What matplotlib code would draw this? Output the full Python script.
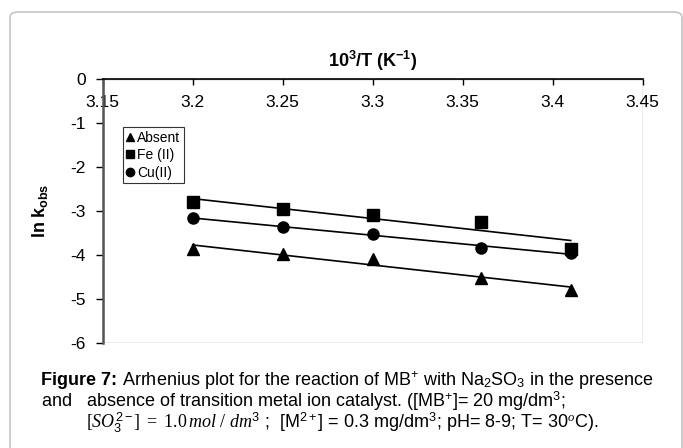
import numpy as np
import matplotlib
matplotlib.use('Agg')
import matplotlib.pyplot as plt
from matplotlib.patches import Rectangle, FancyBboxPatch

plt.rcParams['font.family'] = ['Liberation Sans', 'DejaVu Sans']
plt.rcParams['axes.unicode_minus'] = False
plt.rcParams['mathtext.fontset'] = 'custom'
plt.rcParams['mathtext.rm'] = 'Liberation Sans'
plt.rcParams['mathtext.bf'] = 'Liberation Sans:bold'
plt.rcParams['mathtext.it'] = 'Liberation Serif:italic'
plt.rcParams['mathtext.sf'] = 'Liberation Serif'

# values
inv_T = [3.2, 3.25, 3.3, 3.36, 3.41]
absent = [-3.86, -3.97, -4.09, -4.51, -4.79]
fe_ii = [-2.80, -2.955, -3.08, -3.24, -3.86]
cu_ii = [-3.145, -3.37, -3.52, -3.84, -3.95]
x_ticks = [3.15, 3.2, 3.25, 3.3, 3.35, 3.4, 3.45]
x_labels = ['3.15', '3.2', '3.25', '3.3', '3.35', '3.4', '3.45']
y_ticks = [0, -1, -2, -3, -4, -5, -6]

series = [
    ('Absent', absent, '^'),
    ('Fe (II)', fe_ii, 's'),
    ('Cu(II)', cu_ii, 'o'),
]

fig = plt.figure(figsize=(6.83, 4.48), dpi=100)

# rounded frame around the whole figure
frame = FancyBboxPatch((10 / 683, -0.05), (672 / 683), 1.05 - 12 / 448,
                       boxstyle='round,pad=0,rounding_size=0.012',
                       transform=fig.transFigure, fill=False,
                       edgecolor='#c4c4c4', linewidth=1.2)
fig.patches.append(frame)

ax = fig.add_axes([0.1504, 0.2344, 0.7906, 0.5886])

x = np.array(inv_T)
for name, vals, mk in series:
    ax.plot(inv_T, vals, ls='none', marker=mk, color='black',
            markersize=8, label=name, zorder=3)
    slope, icept = np.polyfit(x, vals, 1)
    ax.plot(x[[0, -1]], slope * x[[0, -1]] + icept, color='black',
            linewidth=1.2, zorder=2)

ax.set_xlim(3.15, 3.45)
ax.set_ylim(-6, 0)
ax.set_xticks(x_ticks)
ax.set_xticklabels(x_labels)
ax.set_yticks(y_ticks)

# x axis crosses at y = 0 (top of plot), labels below it
ax.spines['bottom'].set_position(('data', 0))
ax.spines['bottom'].set_color('black')
ax.spines['bottom'].set_linewidth(1.2)
ax.spines['top'].set_visible(False)
ax.spines['right'].set_visible(False)
ax.spines['left'].set_color('#555555')
ax.spines['left'].set_linewidth(1.8)
ax.add_patch(Rectangle((0, 0), 1, 1, transform=ax.transAxes, fill=False,
                       edgecolor='#a8a8a8', linewidth=1.0, zorder=0.5))

ax.tick_params(axis='x', direction='out', length=4, width=1, pad=7,
               labelsize=12.5)
ax.tick_params(axis='y', direction='out', length=5, width=1, pad=7,
               labelsize=12.5)

ax.set_title(r'$\mathbf{10^3/T\ (K^{-1})}$', fontsize=13, pad=9)
fig.text(40 / 683, 0.5287, r'$\mathbf{ln\ k_{obs}}$', rotation=90,
         ha='center', va='center', fontsize=13)

leg = ax.legend(loc='upper left', bbox_to_anchor=(0.037, 0.818),
                fontsize=10, frameon=True, fancybox=False,
                edgecolor='black', markerscale=0.75, handlelength=0.6,
                handletextpad=0.2, labelspacing=0.25, borderpad=0.25,
                borderaxespad=0)
leg.get_frame().set_linewidth(0.8)

cap_size = 13
fig.canvas.draw()
renderer = fig.canvas.get_renderer()
head = fig.text(41 / 683, 1 - 380 / 448, 'Figure 7:', weight='bold',
                ha='left', va='center', fontsize=cap_size)
head_w = head.get_window_extent(renderer).width / fig.bbox.width
fig.text(41 / 683 + head_w, 1 - 380 / 448,
         r' Arrhenius plot for the reaction of MB$^{+}$ '
         r'with Na$_{2}$SO$_{3}$ in the presence',
         ha='left', va='center', fontsize=cap_size)
fig.text(41 / 683, 1 - 401.5 / 448,
         r'and   absence of transition metal ion catalyst. ([MB$^{+}$]= 20 mg/dm$^{3}$;',
         ha='left', va='center', fontsize=cap_size)
fig.text(86 / 683, 1 - 423 / 448,
         r'$\mathsf{[}\mathit{SO}_{3}^{2-}\mathsf{]\ =\ 1.0}\,\mathit{mol}\ \mathsf{/}\ \mathit{dm}^{3}$ ;  '
         r'[M$^{2+}$] = 0.3 mg/dm$^{3}$; pH= 8-9; T= 30$^{o}$C).',
         ha='left', va='center', fontsize=cap_size)

fig.savefig('out.png', dpi=100)
